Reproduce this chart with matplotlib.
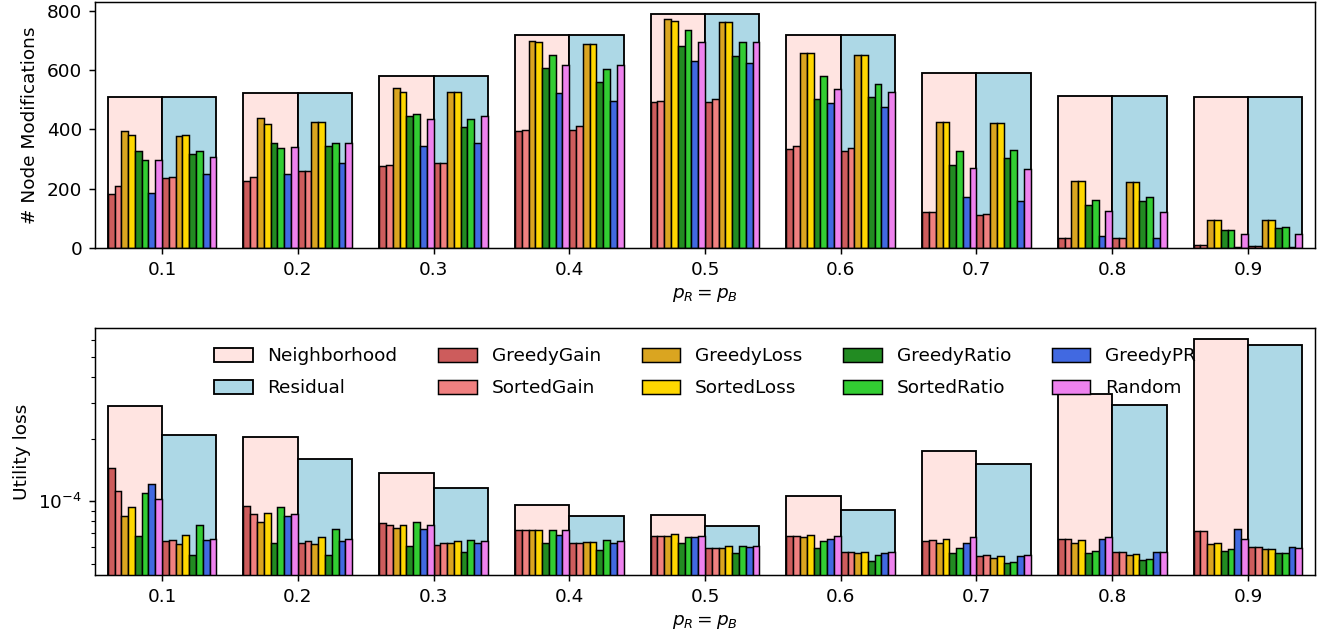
import matplotlib
matplotlib.use("Agg")
import matplotlib.pyplot as plt
import numpy as np

p_values = [0.1, 0.2, 0.3, 0.4, 0.5, 0.6, 0.7, 0.8, 0.9]
p_labels = ["0.1", "0.2", "0.3", "0.4", "0.5", "0.6", "0.7", "0.8", "0.9"]

algorithms = ["GreedyGain", "SortedGain", "GreedyLoss", "SortedLoss",
              "GreedyRatio", "SortedRatio", "GreedyPR", "Random"]
alg_colors = ["indianred", "lightcoral", "goldenrod", "gold",
              "forestgreen", "limegreen", "royalblue", "violet"]

# ---- Top: number of node modifications ----
mods_neighborhood = [508, 522, 580, 717, 789, 717, 590, 512, 508]
mods_residual = [508, 522, 580, 717, 789, 717, 590, 512, 508]

mods_n_greedygain = [182, 227, 275, 394, 493, 335, 121, 35, 9]
mods_n_sortedgain = [209, 241, 280, 399, 497, 345, 121, 35, 9]
mods_n_greedyloss = [395, 440, 539, 699, 771, 658, 425, 226, 93]
mods_n_sortedloss = [381, 419, 526, 694, 766, 658, 425, 226, 93]
mods_n_greedyratio = [327, 354, 444, 607, 680, 503, 280, 144, 62]
mods_n_sortedratio = [296, 337, 452, 652, 735, 580, 326, 162, 62]
mods_n_greedypr = [186, 249, 345, 522, 632, 490, 171, 39, 5]
mods_n_random = [296, 340, 434, 616, 694, 535, 271, 126, 48]

mods_r_greedygain = [236, 259, 288, 399, 493, 326, 111, 35, 7]
mods_r_sortedgain = [241, 259, 288, 412, 503, 336, 116, 35, 7]
mods_r_greedyloss = [377, 426, 526, 689, 761, 652, 421, 221, 93]
mods_r_sortedloss = [381, 426, 526, 689, 761, 652, 421, 221, 93]
mods_r_greedyratio = [318, 345, 407, 559, 648, 508, 303, 158, 66]
mods_r_sortedratio = [327, 354, 434, 603, 694, 554, 331, 171, 71]
mods_r_greedypr = [250, 287, 353, 495, 625, 475, 158, 35, 4]
mods_r_random = [308, 353, 444, 616, 694, 526, 267, 120, 48]

# ---- Bottom: utility loss (x 1e-4) ----
loss_neighborhood = [2.88, 2.04, 1.363, 0.96, 0.855, 1.055, 1.75, 3.30, 6.1]
loss_residual = [2.10, 1.60, 1.154, 0.851, 0.755, 0.908, 1.51, 2.92, 5.67]

loss_n_greedygain = [1.44, 0.95, 0.782, 0.724, 0.681, 0.681, 0.641, 0.66, 0.721]
loss_n_sortedgain = [1.116, 0.867, 0.765, 0.724, 0.681, 0.681, 0.65, 0.66, 0.721]
loss_n_greedyloss = [0.85, 0.795, 0.743, 0.724, 0.681, 0.67, 0.629, 0.629, 0.62]
loss_n_sortedloss = [0.94, 0.882, 0.765, 0.724, 0.696, 0.69, 0.66, 0.65, 0.631]
loss_n_greedyratio = [0.68, 0.631, 0.605, 0.626, 0.626, 0.595, 0.56, 0.56, 0.577]
loss_n_sortedratio = [1.10, 0.933, 0.795, 0.724, 0.67, 0.642, 0.595, 0.577, 0.586]
loss_n_greedypr = [1.21, 0.85, 0.733, 0.69, 0.67, 0.66, 0.631, 0.66, 0.735]
loss_n_random = [1.03, 0.867, 0.765, 0.724, 0.681, 0.681, 0.67, 0.67, 0.66]

loss_r_greedygain = [0.643, 0.631, 0.615, 0.626, 0.595, 0.569, 0.544, 0.566, 0.603]
loss_r_sortedgain = [0.65, 0.643, 0.626, 0.626, 0.595, 0.569, 0.552, 0.566, 0.603]
loss_r_greedyloss = [0.622, 0.62, 0.626, 0.634, 0.595, 0.56, 0.534, 0.55, 0.586]
loss_r_sortedloss = [0.69, 0.67, 0.642, 0.634, 0.605, 0.569, 0.542, 0.558, 0.586]
loss_r_greedyratio = [0.55, 0.55, 0.569, 0.58, 0.565, 0.516, 0.503, 0.52, 0.56]
loss_r_sortedratio = [0.766, 0.735, 0.653, 0.653, 0.605, 0.55, 0.51, 0.527, 0.56]
loss_r_greedypr = [0.65, 0.643, 0.631, 0.626, 0.60, 0.56, 0.542, 0.566, 0.603]
loss_r_random = [0.66, 0.66, 0.642, 0.642, 0.605, 0.569, 0.55, 0.566, 0.595]

mods_n = [mods_n_greedygain, mods_n_sortedgain, mods_n_greedyloss, mods_n_sortedloss,
          mods_n_greedyratio, mods_n_sortedratio, mods_n_greedypr, mods_n_random]
mods_r = [mods_r_greedygain, mods_r_sortedgain, mods_r_greedyloss, mods_r_sortedloss,
          mods_r_greedyratio, mods_r_sortedratio, mods_r_greedypr, mods_r_random]
loss_n = [loss_n_greedygain, loss_n_sortedgain, loss_n_greedyloss, loss_n_sortedloss,
          loss_n_greedyratio, loss_n_sortedratio, loss_n_greedypr, loss_n_random]
loss_r = [loss_r_greedygain, loss_r_sortedgain, loss_r_greedyloss, loss_r_sortedloss,
          loss_r_greedyratio, loss_r_sortedratio, loss_r_greedypr, loss_r_random]

W, H, DPI = 1330, 639, 133
fig = plt.figure(figsize=(W / DPI, H / DPI), dpi=DPI)
ax1 = fig.add_axes([95 / W, 1 - 248 / H, 1220 / W, 246 / H])
ax2 = fig.add_axes([95 / W, 1 - 575 / H, 1220 / W, 247 / H])

x = np.array(p_values)
wide = 0.04
narrow = wide / 8


def draw(ax, neigh, resid, per_n, per_r, scale=1.0):
    ax.bar(x - wide / 2, np.array(neigh) * scale, width=wide, color="mistyrose",
           edgecolor="black", linewidth=1.0, label="Neighborhood", zorder=1)
    ax.bar(x + wide / 2, np.array(resid) * scale, width=wide, color="lightblue",
           edgecolor="black", linewidth=1.0, label="Residual", zorder=1)
    for j, (name, col) in enumerate(zip(algorithms, alg_colors)):
        off = (j + 0.5) * narrow
        ax.bar(x - wide + off, np.array(per_n[j]) * scale, width=narrow, color=col,
               edgecolor="black", linewidth=0.8, label=name, zorder=2)
        ax.bar(x + off, np.array(per_r[j]) * scale, width=narrow, color=col,
               edgecolor="black", linewidth=0.8, zorder=2)


draw(ax1, mods_neighborhood, mods_residual, mods_n, mods_r)
ax1.set_xlim(0.0506, 0.9494)
ax1.set_ylim(0, 830)
ax1.set_yticks([0, 200, 400, 600, 800])
ax1.set_xticks(p_values)
ax1.set_xticklabels(p_labels)
ax1.set_ylabel("# Node Modifications")
ax1.set_xlabel("$p_R = p_B$")

ax2.set_yscale("log")
draw(ax2, loss_neighborhood, loss_residual, loss_n, loss_r, scale=1e-4)
ax2.set_xlim(0.0506, 0.9494)
ax2.set_ylim(4.40e-5, 6.88e-4)
ax2.set_xticks(p_values)
ax2.set_xticklabels(p_labels)
ax2.set_ylabel("Utility loss")
ax2.set_xlabel("$p_R = p_B$")

handles, labels = ax2.get_legend_handles_labels()
ax2.legend(handles, labels, loc="upper center", ncol=5, frameon=False,
           labelspacing=0.75, columnspacing=2.2, handlelength=2.1,
           handleheight=0.8, borderaxespad=0.65)

fig.savefig("out.png", dpi=DPI)
